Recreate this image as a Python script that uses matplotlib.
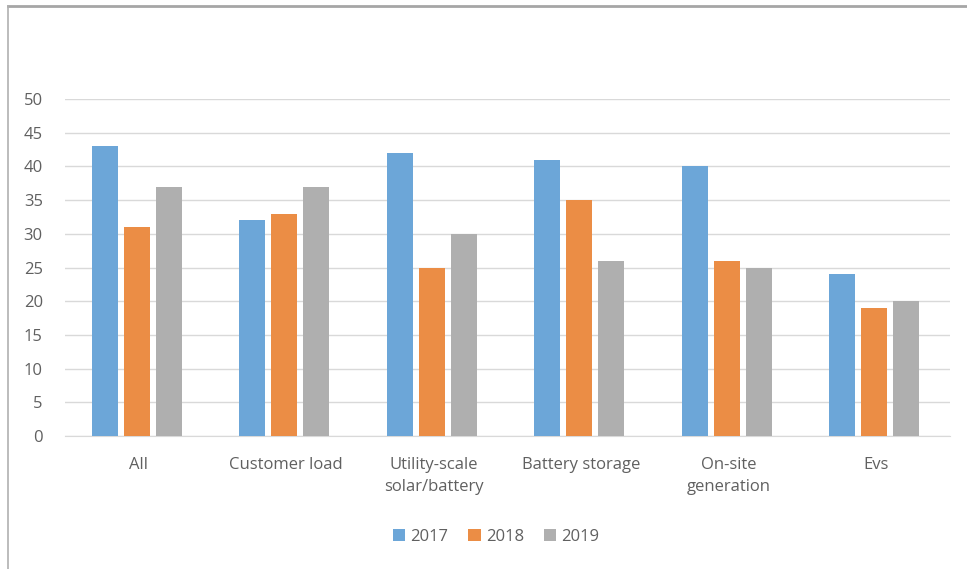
import matplotlib
matplotlib.use("Agg")
import matplotlib.pyplot as plt
import numpy as np
from matplotlib.lines import Line2D
from matplotlib.patches import Patch

categories = ["All", "Customer load", "Utility-scale\nsolar/battery", "Battery storage", "On-site\ngeneration", "Evs"]
series_names = ["2017", "2018", "2019"]
v2017 = [43, 32, 42, 41, 40, 24]
v2018 = [31, 33, 25, 35, 26, 19]
v2019 = [37, 37, 30, 26, 25, 20]
yticks = [0, 5, 10, 15, 20, 25, 30, 35, 40, 45, 50]

colors = ["#6CA6D8", "#EB8D45", "#AFAFAF"]
text_color = "#606060"
plt.rcParams['font.family'] = ['Open Sans', 'DejaVu Sans']

fig = plt.figure(figsize=(9.67, 5.69), dpi=100)
ax = fig.add_axes([0.0672, 0.2337, 0.9152, 0.5923])

x = np.arange(len(categories))
bw = 0.176
step = 0.217
shift = -0.0136
for i, (vals, c, name) in enumerate(zip([v2017, v2018, v2019], colors, series_names)):
    ax.bar(x + (i - 1) * step + shift, vals, width=bw, color=c, label=name, zorder=3)

ax.set_xlim(-0.5, len(categories) - 0.5)
ax.set_ylim(0, 50)
ax.set_yticks(yticks)
ax.set_yticklabels([str(t) for t in yticks], fontsize=12, color=text_color)
ax.set_xticks(x)
ax.set_xticklabels(categories, fontsize=12, color=text_color, linespacing=1.5)
ax.tick_params(axis='both', length=0)
ax.tick_params(axis='y', pad=16)
ax.tick_params(axis='x', pad=15)
ax.grid(axis='y', color="#d9d9d9", lw=1, zorder=0)
for s in ["top", "right", "left"]:
    ax.spines[s].set_visible(False)
ax.spines["bottom"].set_color("#d9d9d9")

handles = [Patch(facecolor=c, edgecolor='none') for c in colors]
fig.legend(handles, series_names, loc='center', bbox_to_anchor=(0.513, 0.057),
           ncol=3, frameon=False, fontsize=12, handlelength=0.75, handleheight=0.75,
           handletextpad=0.3, columnspacing=1.2, labelcolor=text_color)

# outer frame (top and left)
fig.add_artist(Line2D([8/967, 1.0], [1 - 6/569, 1 - 6/569], transform=fig.transFigure, color="#a6a6a6", lw=2))
fig.add_artist(Line2D([8/967, 8/967], [0, 1 - 6/569], transform=fig.transFigure, color="#b0b0b0", lw=1.2))

fig.savefig("out.png", dpi=100)
